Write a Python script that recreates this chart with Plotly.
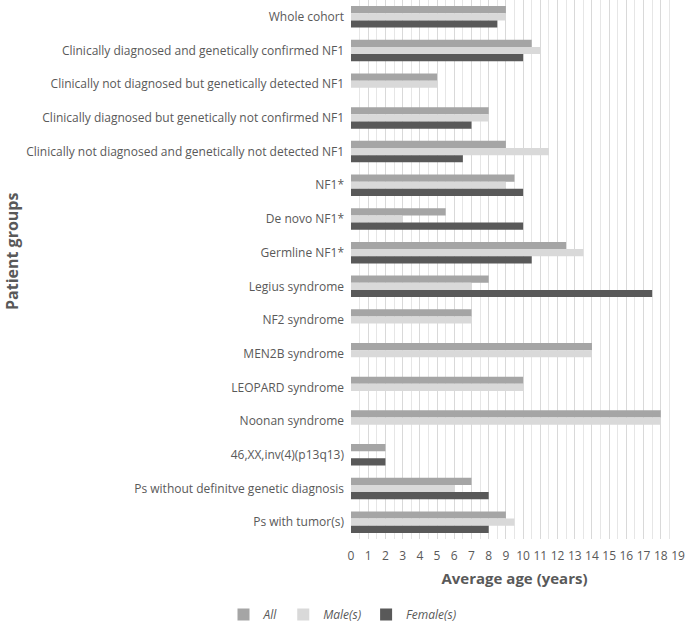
import plotly.graph_objects as go

categories = [
    "Whole cohort",
    "Clinically diagnosed and genetically confirmed NF1",
    "Clinically not diagnosed but genetically detected NF1",
    "Clinically diagnosed but genetically not confirmed NF1",
    "Clinically not diagnosed and genetically not detected NF1",
    "NF1*",
    "De novo NF1*",
    "Germline NF1*",
    "Legius syndrome",
    "NF2 syndrome",
    "MEN2B syndrome",
    "LEOPARD syndrome",
    "Noonan syndrome",
    "46,XX,inv(4)(p13q13)",
    "Ps without definitve genetic diagnosis",
    "Ps with tumor(s)",
]
all_vals = [9, 10.5, 5, 8, 9, 9.5, 5.5, 12.5, 8, 7, 14, 10, 18, 2, 7, 9]
male_vals = [9, 11, 5, 8, 11.5, 9, 3, 13.5, 7, 7, 14, 10, 18, None, 6, 9.5]
female_vals = [8.5, 10, None, 7, 6.5, 10, 10, 10.5, 17.5, None, None, None, None, 2, 8, 8]
x_ticks = list(range(0, 20))

L, R, T, B = 351, 7, 0, 90
plot_w = 685 - L - R
plot_h = 629 - T - B

fig = go.Figure()
for name, vals, col in [("All", all_vals, "#a5a5a5"),
                        ("Male(s)", male_vals, "#d9d9d9"),
                        ("Female(s)", female_vals, "#595959")]:
    fig.add_trace(go.Bar(y=categories, x=vals, name=name, orientation="h",
                         marker=dict(color=col, line=dict(width=0))))

fig.update_layout(
    width=685, height=629,
    margin=dict(l=L, r=R, t=T, b=B, autoexpand=False),
    barmode="group", bargap=0.36, bargroupgap=0,
    plot_bgcolor="white", paper_bgcolor="white",
    font=dict(family="Open Sans", color="#595959", size=12),
    showlegend=True,
    legend=dict(orientation="h", xref="container", yref="container",
                x=0.5, xanchor="center", y=0.0, yanchor="bottom",
                itemwidth=30, tracegroupgap=0, borderwidth=0,
                font=dict(size=12, style="italic", color="#595959"),
                traceorder="normal"),
    xaxis=dict(range=[0, 19], tickmode="array", tickvals=x_ticks,
               automargin=False,
               showgrid=True, gridcolor="#d9d9d9", gridwidth=1,
               minor=dict(dtick=0.5, showgrid=True, gridcolor="#e6e6e6", gridwidth=1),
               zeroline=False, showline=False, ticks="", ticklabelstandoff=8,
               tickfont=dict(size=12, color="#595959"),
               title=dict(text="<b>Average age (years)</b>", font=dict(size=15, color="#595959"),
                          standoff=10)),
    yaxis=dict(autorange="reversed", showgrid=False, zeroline=False, ticks="",
               automargin=False,
               tickfont=dict(size=12, color="#595959"), ticklabelstandoff=6),
    annotations=[dict(text="<b>Patient groups</b>", xref="paper", yref="paper",
                      x=(-1 - L) / plot_w, y=1 - (252 - T) / plot_h,
                      xanchor="left", yanchor="middle",
                      textangle=-90, showarrow=False,
                      font=dict(size=16, color="#595959"))],
)
fig.write_html("out.html", config={"displayModeBar": False},
               post_script="document.body.style.margin='0px';document.body.style.overflow='hidden';")
